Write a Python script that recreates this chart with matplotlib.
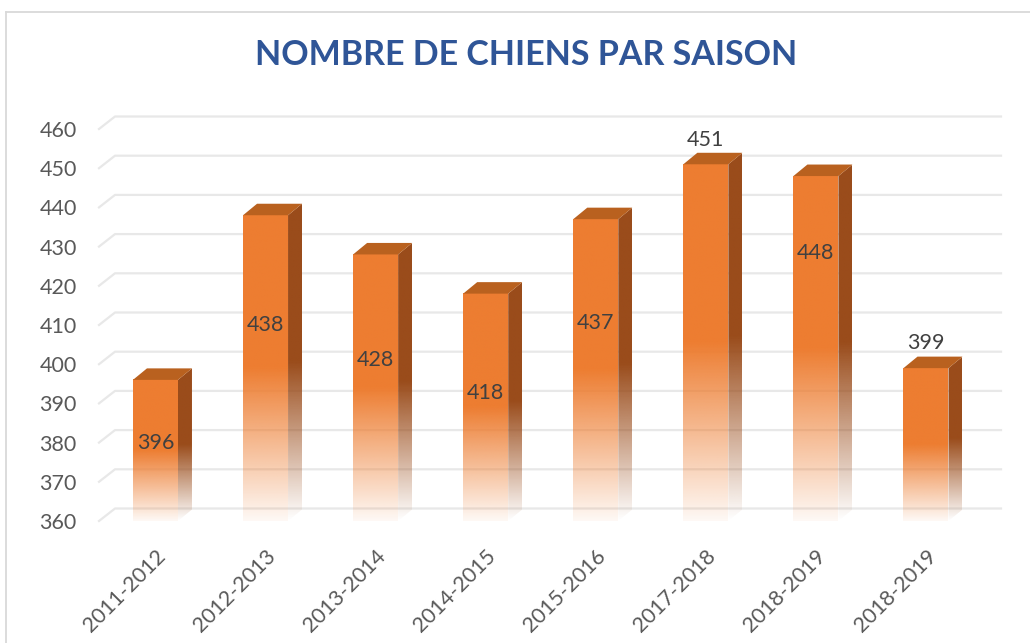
import numpy as np
import matplotlib
matplotlib.use("Agg")
import matplotlib.pyplot as plt
from matplotlib.patches import Polygon
from matplotlib.lines import Line2D
from matplotlib.colors import to_rgb

# ---- data ----
seasons = ["2011-2012", "2012-2013", "2013-2014", "2014-2015",
           "2015-2016", "2017-2018", "2018-2019", "2018-2019"]
dogs = [396, 438, 428, 418, 437, 451, 448, 399]
label_pos = [379.9, 410.0, 401.1, 392.7, 410.5, 457.2, 428.4, 405.4]
yticks = [360, 370, 380, 390, 400, 410, 420, 430, 440, 450, 460]
title = "NOMBRE DE CHIENS PAR SAISON"

# ---- style ----
FRONT = "#ED7D31"
TOP = "#B9611F"
SIDE = "#9A4C1B"
GRID = "#E8E8E8"
TXT = "#595959"
LBL = "#404040"
FONT = "Lato"

W, H = 1030, 643
fig = plt.figure(figsize=(W / 100, H / 100), dpi=100)
fig.patch.set_facecolor("white")
ax = fig.add_axes([99 / W, 1 - 521 / H, 886 / W, 392 / H])
ax.set_xlim(-0.513, 7.536)
ax.set_ylim(yticks[0], yticks[-1])
for s in ax.spines.values():
    s.set_visible(False)
ax.set_facecolor("none")

# pixel -> data conversion
p0 = ax.transData.transform((0, yticks[0]))
p1 = ax.transData.transform((1, yticks[0] + 1))
px_x = p1[0] - p0[0]
px_y = p1[1] - p0[1]

# gridlines (3D wall style)
gdx, gdy = 16 / px_x, 12.5 / px_y
xl, xr = ax.get_xlim()
for t in yticks:
    ax.add_line(Line2D([xl, xl + gdx, xr + gdx], [t, t + gdy, t + gdy],
                       color=GRID, lw=1.6, zorder=0, clip_on=False))

# bars
bw = 45 / px_x
ddx, ddy = 14 / px_x, 11.5 / px_y
base = yticks[0]
n = 256


def grad_rgba(color, a_bottom=0.05, solid_frac=0.5):
    f = np.linspace(0, 1, n)
    a = np.where(f >= solid_frac, 1.0,
                 a_bottom + (1 - a_bottom) * (f / solid_frac))
    rgba = np.zeros((n, 2, 4))
    rgba[..., :3] = to_rgb(color)
    rgba[..., 3] = a[:, None]
    return rgba


for i, v in enumerate(dogs):
    x0, x1 = i - bw / 2, i + bw / 2
    # front face
    ax.imshow(grad_rgba(FRONT), extent=[x0, x1, base, v], origin="lower",
              aspect="auto", interpolation="bilinear", zorder=3)
    # side face
    side = Polygon([(x1, base), (x1 + ddx, base + ddy), (x1 + ddx, v + ddy), (x1, v)],
                   closed=True, facecolor="none", edgecolor="none")
    ax.add_patch(side)
    im = ax.imshow(grad_rgba(SIDE, a_bottom=0.0), extent=[x1, x1 + ddx, base, v + ddy],
                   origin="lower", aspect="auto", interpolation="bilinear", zorder=2)
    im.set_clip_path(side)
    # top face
    ax.add_patch(Polygon([(x0, v), (x0 + ddx, v + ddy), (x1 + ddx, v + ddy), (x1, v)],
                         closed=True, facecolor=TOP, edgecolor="none", zorder=3,
                         clip_on=False))
    # data label
    ax.text(i, label_pos[i], str(v), ha="center", va="center", fontsize=15.5,
            color=LBL, family=FONT, zorder=5)

ax.set_xlim(xl, xr)
ax.set_ylim(yticks[0], yticks[-1])

ax.set_yticks(yticks)
ax.set_yticklabels([str(t) for t in yticks], fontsize=15.5, color=TXT, family=FONT)
ax.set_xticks(range(len(seasons)))
ax.set_xticklabels(seasons, rotation=45, ha="right", rotation_mode="anchor",
                   fontsize=15.5, color=TXT, family=FONT)
ax.tick_params(axis="y", length=0, pad=16)
ax.tick_params(axis="x", length=0, pad=18)

# title
fig.text(526 / W, 1 - 55 / H, title, ha="center", va="center", fontsize=24.5,
         fontweight="bold", color="#2F5597", family=FONT)

# chart frame
fig.add_artist(Line2D([6 / W, 6 / W], [0, 1 - 12 / H], transform=fig.transFigure,
                      color="#D9D9D9", lw=1.3))
fig.add_artist(Line2D([6 / W, 1], [1 - 12 / H, 1 - 12 / H], transform=fig.transFigure,
                      color="#D9D9D9", lw=1.3))

fig.savefig("out.png", dpi=100)
